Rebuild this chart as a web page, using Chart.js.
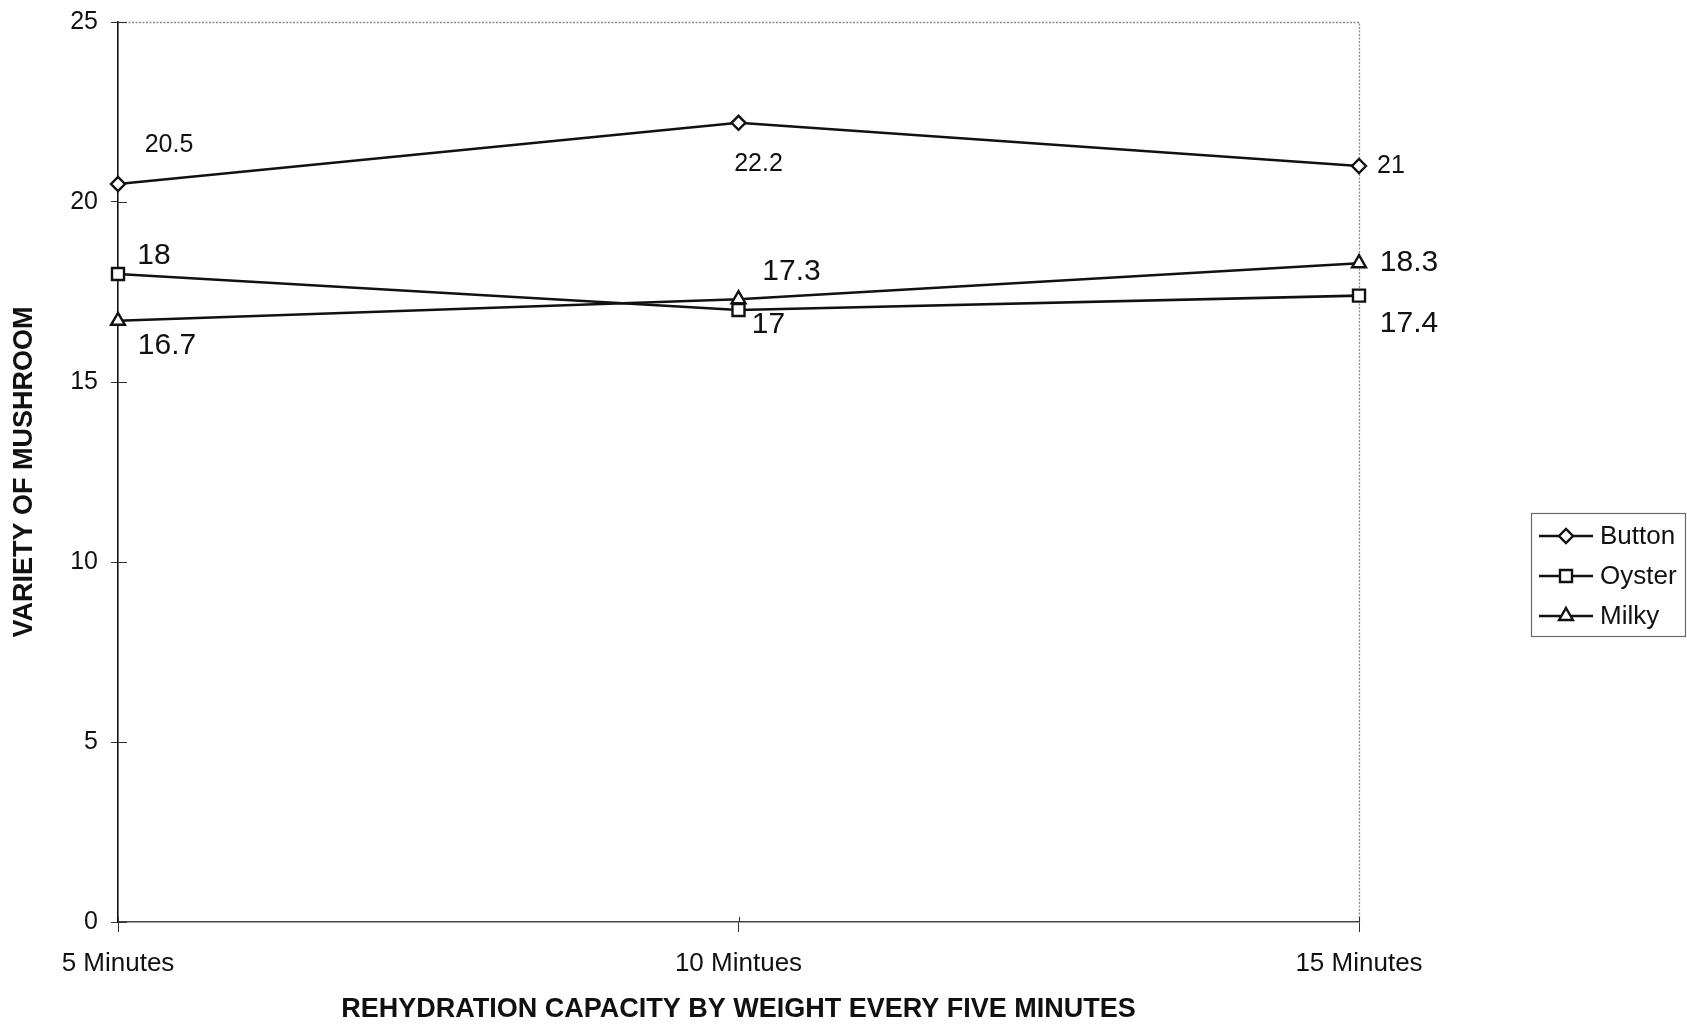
<!DOCTYPE html>
<html>
<head>
<meta charset="utf-8">
<script src="https://cdn.jsdelivr.net/npm/chart.js@4/dist/chart.umd.min.js"></script>
<style>
  html, body { margin: 0; padding: 0; background: #fff; }
  #c { display: block; }
</style>
</head>
<body>
<canvas id="c" width="1687" height="1026"></canvas>
<script>
// Rehydration capacity of three mushroom varieties, read every five minutes
const categories = ['5 Minutes', '10 Mintues', '15 Minutes'];
const seriesNames = ['Button', 'Oyster', 'Milky'];
const buttonValues = [20.5, 22.2, 21];
const oysterValues = [18, 17, 17.4];
const milkyValues = [16.7, 17.3, 18.3];
const yTicks = [0, 5, 10, 15, 20, 25];

const FONT = "'Liberation Sans', Arial, Helvetica, sans-serif";
const INK = '#111';

// value-label placement (pixel offsets from each point) and size per series
const labelStyle = {
  Button: { size: 25, offsets: [[51, -39], [20, 41], [32, 0]] },
  Oyster: { size: 30, offsets: [[36, -18], [30, 15], [50, 28]] },
  Milky:  { size: 30, offsets: [[49, 25], [53, -27], [50, 0]] }
};

const markerStyle = {
  Button: { pointStyle: 'rectRot', radius: 7 },
  Oyster: { pointStyle: 'rect', radius: 8.5 },
  Milky:  { pointStyle: 'triangle', radius: 8 }
};

function makeDataset(name, values) {
  const m = markerStyle[name];
  return {
    label: name,
    data: values,
    borderColor: INK,
    borderWidth: 2.6,
    backgroundColor: '#fff',
    pointStyle: m.pointStyle,
    pointRadius: m.radius,
    pointHoverRadius: m.radius,
    pointBorderColor: INK,
    pointBackgroundColor: '#fff',
    pointBorderWidth: 2.4,
    tension: 0,
    fill: false
  };
}

// dotted frame on the top and right of the plot area, plus inward ticks
const framePlugin = {
  id: 'frame',
  beforeDatasetsDraw(chart) {
    const { ctx, chartArea: a } = chart;
    ctx.save();
    ctx.strokeStyle = '#8a8a8a';
    ctx.lineWidth = 1.3;
    ctx.setLineDash([2, 1.5]);
    ctx.beginPath();
    ctx.moveTo(a.left, a.top + 0.5);
    ctx.lineTo(a.right + 0.5, a.top + 0.5);
    ctx.lineTo(a.right + 0.5, a.bottom);
    ctx.stroke();
    ctx.setLineDash([]);
    const y = chart.scales.y;
    ctx.strokeStyle = '#333';
    ctx.lineWidth = 1;
    yTicks.forEach(v => {
      const py = Math.round(y.getPixelForValue(v)) + 0.5;
      ctx.beginPath();
      ctx.moveTo(a.left, py);
      ctx.lineTo(a.left + 9, py);
      ctx.stroke();
    });
    const x = chart.scales.x;
    categories.forEach((c, i) => {
      const px = Math.round(x.getPixelForValue(i)) + 0.5;
      ctx.beginPath();
      ctx.moveTo(px, a.bottom - 5);
      ctx.lineTo(px, a.bottom);
      ctx.stroke();
    });
    ctx.restore();
  }
};

// value labels beside each point
const valueLabelPlugin = {
  id: 'valueLabels',
  afterDatasetsDraw(chart) {
    const { ctx } = chart;
    ctx.save();
    ctx.fillStyle = INK;
    ctx.textAlign = 'center';
    ctx.textBaseline = 'middle';
    chart.data.datasets.forEach((ds, di) => {
      const st = labelStyle[ds.label];
      ctx.font = st.size + 'px ' + FONT;
      chart.getDatasetMeta(di).data.forEach((pt, i) => {
        const [dx, dy] = st.offsets[i];
        ctx.fillText(String(ds.data[i]), pt.x + dx, pt.y + dy);
      });
    });
    ctx.restore();
  }
};

// boxed legend with line-and-marker keys
const legendPlugin = {
  id: 'boxLegend',
  afterDraw(chart) {
    const { ctx } = chart;
    const box = { x: 1531, y: 513, w: 154, h: 123 };
    ctx.save();
    ctx.strokeStyle = '#6a6a6a';
    ctx.lineWidth = 1.2;
    ctx.strokeRect(box.x + 0.5, box.y + 0.5, box.w, box.h);
    chart.data.datasets.forEach((ds, i) => {
      const cy = box.y + 23 + i * 40;
      ctx.strokeStyle = INK;
      ctx.lineWidth = 2.6;
      ctx.beginPath();
      ctx.moveTo(box.x + 8, cy);
      ctx.lineTo(box.x + 62, cy);
      ctx.stroke();
      ctx.fillStyle = '#fff';
      ctx.lineWidth = 2.4;
      Chart.helpers.drawPoint(ctx, {
        pointStyle: ds.pointStyle,
        radius: ds.pointRadius,
        borderWidth: 2.4,
        rotation: 0
      }, box.x + 35, cy);
      ctx.fillStyle = INK;
      ctx.font = '26px ' + FONT;
      ctx.textAlign = 'left';
      ctx.textBaseline = 'middle';
      ctx.fillText(ds.label, box.x + 69, cy + 1);
    });
    ctx.restore();
  }
};

new Chart(document.getElementById('c'), {
  type: 'line',
  data: {
    labels: categories,
    datasets: [
      makeDataset(seriesNames[0], buttonValues),
      makeDataset(seriesNames[1], oysterValues),
      makeDataset(seriesNames[2], milkyValues)
    ]
  },
  options: {
    responsive: false,
    animation: false,
    devicePixelRatio: 1,
    layout: { padding: { top: 22, right: 328, bottom: 0, left: 0 } },
    plugins: {
      legend: { display: false },
      tooltip: { enabled: false }
    },
    scales: {
      x: {
        type: 'category',
        offset: false,
        afterFit(s) { s.height = 104; },
        border: { display: true, color: '#444', width: 1.5, dash: [3, 1.5] },
        grid: { display: true, drawOnChartArea: false, drawTicks: true, tickLength: 10, color: '#333', offset: false },
        ticks: {
          color: INK,
          font: { family: FONT, size: 26 },
          padding: 16,
          maxRotation: 0,
          autoSkip: false
        },
        title: {
          display: true,
          text: 'REHYDRATION CAPACITY BY WEIGHT EVERY FIVE MINUTES',
          color: INK,
          font: { family: FONT, size: 27, weight: 'bold' },
          padding: { top: 0, bottom: 0 }
        }
      },
      y: {
        min: 0,
        max: 25,
        afterFit(s) {
          s.width = 118;
          s.paddingTop = 0;
          s.paddingBottom = 0;
        },
        afterBuildTicks(s) { s.ticks = yTicks.map(v => ({ value: v })); },
        border: { display: true, color: INK, width: 1.6 },
        grid: { display: true, drawOnChartArea: false, drawTicks: true, tickLength: 7, color: '#333' },
        ticks: {
          color: INK,
          font: { family: FONT, size: 25 },
          padding: 13
        },
        title: {
          display: true,
          text: 'VARIETY OF MUSHROOM',
          color: INK,
          font: { family: FONT, size: 27, weight: 'bold' },
          padding: { top: 8, bottom: 0 }
        }
      }
    }
  },
  plugins: [framePlugin, valueLabelPlugin, legendPlugin]
});
</script>
</body>
</html>
